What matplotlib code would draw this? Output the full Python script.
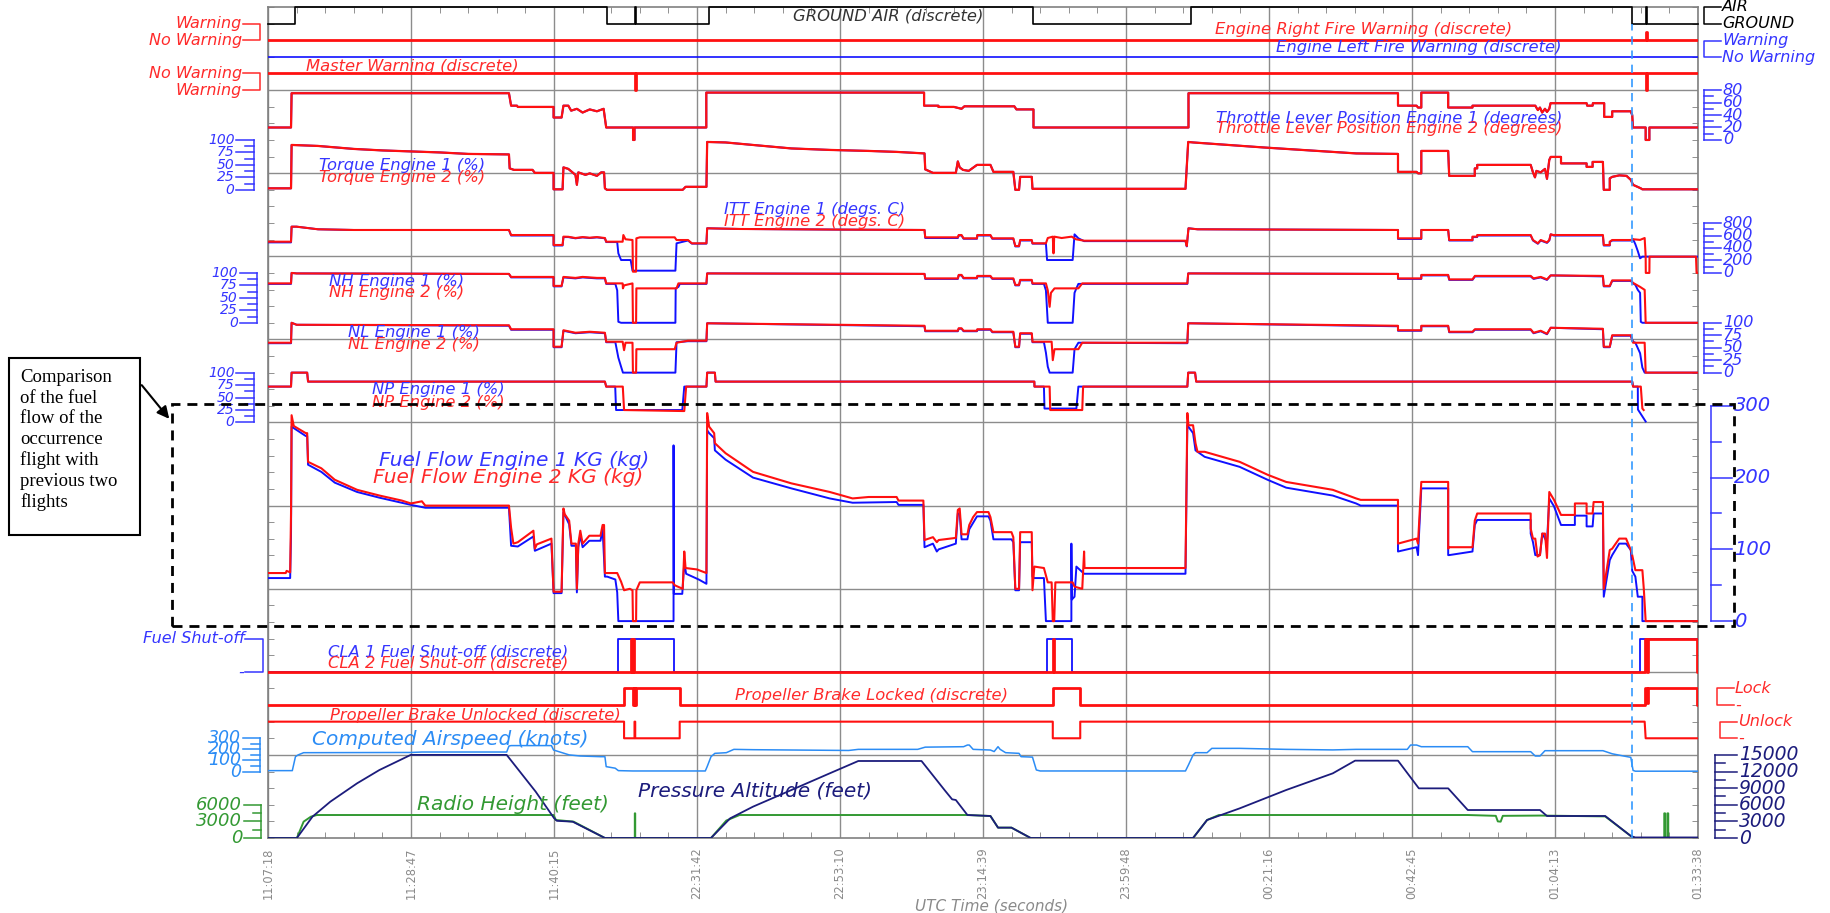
import numpy as np
import matplotlib
matplotlib.use("Agg")
import matplotlib.pyplot as plt
from matplotlib.patches import Rectangle

plt.rcParams["font.family"] = ["DejaVu Sans"]

# x is in grid units: 10 equal slices, each labelled with a UTC time
TIME_LABELS = ["11:07:18", "11:28:47", "11:40:15", "22:31:42", "22:53:10", "23:14:39",
               "23:59:48", "00:21:16", "00:42:45", "01:04:13", "01:33:38"]

# ---- discrete signals (0/1) ----
GROUND_AIR = [(0, 0), (0.186, 0), (0.186, 1), (2.368, 1), (2.368, 0), (2.565, 0), (2.565, 1), (2.572, 1),
              (2.572, 0), (3.087, 0), (3.087, 1), (5.353, 1), (5.353, 0), (6.455, 0), (6.455, 1), (9.54, 1),
              (9.54, 0), (9.634, 0), (9.634, 1), (9.642, 1), (9.642, 0), (10, 0)]
MASTER_WARN = [(0, 0), (2.565, 0), (2.565, 1), (2.570, 1), (2.570, 0), (9.634, 0), (9.634, 1), (9.640, 1),
               (9.640, 0), (10, 0)]
RIGHT_FIRE = [(0, 0), (9.634, 0), (9.634, 0.5), (9.640, 0.5), (9.640, 0), (10, 0)]
LEFT_FIRE = [(0, 0), (10, 0)]

# ---- throttle lever (deg) and torque (%) ----
TLA = [(0, 20), (0.161, 20), (0.165, 75), (1.685, 75), (1.70, 55), (1.741, 55), (1.747, 53), (1.997, 53),
       (1.997, 36), (2.053, 36), (2.066, 55), (2.10, 55), (2.12, 47), (2.16, 50), (2.20, 44), (2.25, 49),
       (2.30, 46), (2.347, 50), (2.365, 20), (2.553, 20), (2.553, 0), (2.563, 0), (2.563, 20), (3.065, 20),
       (3.065, 76), (4.588, 76), (4.588, 55), (4.688, 55), (4.688, 53), (4.797, 53), (4.85, 50), (4.87, 54),
       (5.219, 54), (5.234, 49), (5.353, 49), (5.353, 20), (6.437, 20), (6.437, 75), (7.902, 75), (7.902, 55),
       (8.032, 55), (8.042, 52), (8.065, 52), (8.065, 76), (8.253, 76), (8.253, 52), (8.423, 52), (8.423, 55),
       (8.862, 55), (8.88, 48), (8.895, 52), (8.91, 44), (8.93, 50), (8.944, 45), (8.96, 50), (8.969, 59),
       (9.221, 59), (9.225, 55), (9.263, 55), (9.265, 59), (9.344, 59), (9.344, 37), (9.40, 37), (9.40, 46),
       (9.529, 46), (9.54, 40), (9.545, 20), (9.634, 20), (9.634, 0), (9.66, 0), (9.66, 20), (10, 20)]
TORQUE = [(0, 3), (0.161, 3), (0.165, 90), (0.35, 88), (0.6, 82), (0.8, 79), (1.0, 77), (1.2, 75), (1.4, 72),
          (1.685, 71), (1.69, 43), (1.72, 40), (1.85, 40), (1.866, 34), (1.997, 34), (1.997, 1), (2.06, 1),
          (2.066, 45), (2.10, 42), (2.15, 30), (2.16, 10), (2.17, 35), (2.22, 30), (2.25, 33), (2.30, 28),
          (2.33, 35), (2.35, 35), (2.356, 3), (2.37, 0), (2.90, 0), (2.92, 6), (3.066, 6), (3.071, 96),
          (3.2, 95), (3.39, 90), (3.66, 83), (3.93, 80), (4.2, 78), (4.4, 76), (4.591, 73), (4.596, 41),
          (4.65, 34), (4.81, 34), (4.824, 57), (4.837, 45), (4.86, 40), (4.90, 38), (4.958, 50), (5.052, 50),
          (5.073, 36), (5.212, 36), (5.226, 0), (5.252, 0), (5.26, 26), (5.341, 26), (5.346, 2), (6.416, 2),
          (6.435, 96), (6.47, 95), (6.96, 85), (7.61, 73), (7.902, 72), (7.902, 36), (8.032, 36), (8.042, 33),
          (8.065, 33), (8.065, 78), (8.253, 78), (8.26, 28), (8.439, 28), (8.439, 43), (8.456, 43), (8.456, 50),
          (8.83, 50), (8.846, 35), (8.86, 25), (8.87, 38), (8.90, 35), (8.93, 42), (8.944, 22), (8.96, 60),
          (8.97, 66), (9.042, 66), (9.042, 53), (9.221, 53), (9.221, 46), (9.263, 46), (9.263, 56), (9.335, 56),
          (9.341, 0), (9.383, 0), (9.383, 23), (9.40, 26), (9.45, 29), (9.50, 28), (9.53, 20), (9.546, 10),
          (9.60, 3), (9.611, 1), (10, 1)]

# ---- ITT (deg C) ----
ITT_E2 = [(0, 501), (0.161, 501), (0.165, 742), (0.20, 742), (0.35, 700), (0.6, 689), (1.685, 689), (1.70, 608),
          (1.997, 608), (1.997, 448), (2.06, 448), (2.066, 582), (2.10, 580), (2.15, 560), (2.20, 575),
          (2.25, 565), (2.30, 575), (2.356, 560), (2.365, 501), (2.48, 501), (2.485, 608), (2.50, 540),
          (2.549, 528), (2.552, 20), (2.574, 20), (2.576, 555), (2.60, 571), (2.844, 571), (2.857, 528),
          (2.937, 528), (2.964, 475), (3.066, 475), (3.071, 716), (3.3, 705), (4.0, 695), (4.591, 689),
          (4.596, 571), (4.824, 571), (4.83, 608), (4.85, 608), (4.864, 555), (4.958, 555), (4.96, 608),
          (5.052, 608), (5.065, 555), (5.212, 555), (5.226, 432), (5.252, 432), (5.26, 528), (5.341, 528),
          (5.346, 475), (5.44, 475), (5.453, 560), (5.488, 582), (5.493, 314), (5.498, 582), (5.55, 560),
          (5.62, 582), (5.65, 540), (5.707, 517), (6.416, 517), (6.425, 432), (6.437, 716), (6.5, 700),
          (7.902, 689), (7.902, 555), (8.065, 555), (8.065, 689), (8.253, 689), (8.26, 528), (8.423, 528),
          (8.423, 582), (8.456, 582), (8.456, 608), (8.83, 608), (8.846, 528), (8.88, 475), (8.90, 528),
          (8.944, 490), (8.96, 528), (8.97, 619), (8.99, 608), (9.335, 608), (9.341, 448), (9.383, 448),
          (9.383, 501), (9.40, 528), (9.53, 528), (9.546, 540), (9.595, 530), (9.627, 560), (9.634, 261),
          (9.635, 0), (9.66, 0), (9.661, 261), (9.986, 261), (9.99, 0), (10, 0)]
ITT_E1 = [(0, 490), (0.161, 490), (0.165, 742), (0.20, 742), (0.35, 700), (0.6, 689), (1.685, 689), (1.70, 600),
          (1.997, 600), (1.997, 440), (2.06, 440), (2.066, 575), (2.10, 575), (2.15, 555), (2.20, 570),
          (2.25, 560), (2.30, 570), (2.356, 555), (2.365, 495), (2.442, 495), (2.45, 314), (2.469, 207),
          (2.536, 207), (2.549, 36), (2.849, 36), (2.857, 475), (2.937, 520), (2.964, 470), (3.066, 470),
          (3.071, 716), (3.3, 705), (4.0, 695), (4.591, 689), (4.596, 560), (4.824, 560), (4.83, 600),
          (4.85, 600), (4.864, 548), (4.958, 548), (4.96, 600), (5.052, 600), (5.065, 548), (5.212, 548),
          (5.226, 425), (5.252, 425), (5.26, 520), (5.341, 520), (5.346, 470), (5.44, 470), (5.448, 207),
          (5.627, 207), (5.64, 619), (5.667, 555), (5.707, 510), (6.416, 510), (6.425, 425), (6.437, 716),
          (6.5, 700), (7.902, 689), (7.902, 545), (8.065, 545), (8.065, 689), (8.253, 689), (8.26, 520),
          (8.423, 520), (8.423, 575), (8.456, 575), (8.456, 600), (8.83, 600), (8.846, 520), (8.88, 468),
          (8.90, 520), (8.944, 482), (8.96, 520), (8.97, 619), (8.99, 600), (9.335, 600), (9.341, 440),
          (9.383, 440), (9.383, 495), (9.40, 520), (9.53, 520), (9.546, 540), (9.562, 460), (9.579, 350),
          (9.595, 234), (9.611, 261), (10, 261)]

# ---- NH, NL, NP (%) ----
NH_E2 = [(0, 79), (0.161, 79), (0.165, 100), (0.20, 99), (1.685, 98), (1.70, 92), (1.997, 92), (1.997, 74),
         (2.053, 74), (2.066, 92), (2.15, 90), (2.20, 92), (2.30, 90), (2.356, 90), (2.365, 79), (2.48, 79),
         (2.482, 69), (2.49, 75), (2.549, 79), (2.552, 0), (2.574, 0), (2.576, 69), (2.857, 69), (2.87, 79),
         (3.066, 79), (3.071, 99), (4.591, 98), (4.596, 89), (4.824, 89), (4.83, 96), (4.85, 96), (4.864, 90),
         (4.958, 90), (4.96, 94), (5.052, 94), (5.065, 89), (5.212, 89), (5.226, 76), (5.252, 76), (5.26, 86),
         (5.341, 86), (5.346, 79), (5.44, 79), (5.453, 65), (5.466, 32), (5.475, 60), (5.50, 69), (5.667, 69),
         (5.694, 79), (6.429, 79), (6.435, 99), (7.902, 98), (7.902, 89), (8.065, 89), (8.065, 96), (8.253, 96),
         (8.26, 87), (8.423, 87), (8.44, 94), (8.83, 94), (8.85, 89), (8.90, 92), (8.944, 87), (8.97, 95),
         (9.335, 94), (9.341, 74), (9.383, 74), (9.40, 85), (9.53, 85), (9.546, 80), (9.595, 72), (9.627, 66),
         (9.634, 0), (10, 0)]
NH_E1 = [(0, 78), (0.161, 78), (0.165, 100), (0.20, 99), (1.685, 98), (1.70, 91), (1.997, 91), (1.997, 73),
         (2.053, 73), (2.066, 91), (2.15, 89), (2.20, 91), (2.30, 89), (2.356, 89), (2.365, 78), (2.429, 78),
         (2.442, 65), (2.45, 2), (2.469, 0), (2.849, 0), (2.851, 69), (2.87, 72), (2.88, 78), (3.066, 78),
         (3.071, 99), (4.591, 98), (4.596, 88), (4.824, 88), (4.83, 95), (4.85, 95), (4.864, 89), (4.958, 89),
         (4.96, 93), (5.052, 93), (5.065, 88), (5.212, 88), (5.226, 75), (5.252, 75), (5.26, 85), (5.341, 85),
         (5.346, 78), (5.426, 78), (5.44, 65), (5.453, 0), (5.627, 0), (5.64, 60), (5.653, 69), (5.667, 78),
         (6.429, 78), (6.435, 99), (7.902, 98), (7.902, 88), (8.065, 88), (8.065, 95), (8.253, 95), (8.26, 86),
         (8.423, 86), (8.44, 93), (8.83, 93), (8.85, 88), (8.90, 91), (8.944, 86), (8.97, 95), (9.335, 93),
         (9.341, 73), (9.383, 73), (9.40, 84), (9.53, 84), (9.546, 79), (9.562, 76), (9.579, 66), (9.595, 60),
         (9.60, 2), (9.611, 0), (10, 0)]
NL_E2 = [(0, 60), (0.161, 60), (0.165, 100), (0.20, 96), (1.685, 95), (1.70, 87), (1.997, 87), (1.997, 52),
         (2.053, 52), (2.066, 85), (2.15, 80), (2.25, 82), (2.356, 80), (2.365, 62), (2.48, 62), (2.49, 45),
         (2.50, 60), (2.549, 60), (2.552, 0), (2.574, 0), (2.576, 47), (2.844, 47), (2.857, 60), (2.937, 64),
         (3.066, 64), (3.071, 99), (4.591, 94), (4.596, 84), (4.824, 84), (4.83, 89), (4.85, 89), (4.864, 84),
         (4.958, 84), (4.96, 87), (5.052, 87), (5.065, 82), (5.212, 82), (5.226, 52), (5.252, 52), (5.26, 79),
         (5.341, 79), (5.346, 62), (5.48, 62), (5.488, 25), (5.50, 47), (5.667, 47), (5.694, 60), (6.429, 60),
         (6.435, 99), (7.902, 94), (7.902, 85), (8.065, 85), (8.065, 94), (8.253, 94), (8.26, 82), (8.423, 82),
         (8.44, 87), (8.83, 87), (8.85, 80), (8.90, 84), (8.944, 78), (8.97, 90), (9.335, 88), (9.341, 52),
         (9.383, 52), (9.40, 75), (9.53, 75), (9.546, 60), (9.627, 60), (9.634, 0), (10, 0)]
NL_E1 = [(0, 59), (0.161, 59), (0.165, 100), (0.20, 96), (1.685, 94), (1.70, 86), (1.997, 86), (1.997, 51),
         (2.053, 51), (2.066, 84), (2.15, 79), (2.25, 81), (2.356, 79), (2.365, 61), (2.429, 61), (2.45, 30),
         (2.469, 12), (2.482, 0), (2.849, 0), (2.857, 61), (2.937, 63), (3.066, 63), (3.071, 99), (4.591, 93),
         (4.596, 83), (4.824, 83), (4.83, 88), (4.85, 88), (4.864, 83), (4.958, 83), (4.96, 86), (5.052, 86),
         (5.065, 81), (5.212, 81), (5.226, 51), (5.252, 51), (5.26, 78), (5.341, 78), (5.346, 61), (5.426, 61),
         (5.44, 40), (5.453, 12), (5.466, 0), (5.627, 0), (5.64, 47), (5.667, 60), (6.429, 59), (6.435, 99),
         (7.902, 93), (7.902, 84), (8.065, 84), (8.065, 93), (8.253, 93), (8.26, 81), (8.423, 81), (8.44, 86),
         (8.83, 86), (8.85, 79), (8.90, 83), (8.944, 77), (8.97, 90), (9.335, 87), (9.341, 51), (9.383, 51),
         (9.40, 74), (9.53, 74), (9.546, 62), (9.562, 60), (9.595, 39), (9.611, 10), (9.627, 0), (10, 0)]
NP_E2 = [(0, 72), (0.161, 72), (0.165, 100), (0.274, 100), (0.28, 82), (2.356, 82), (2.365, 72), (2.481, 72),
         (2.49, 25), (2.90, 23), (2.911, 23), (2.924, 72), (3.066, 72), (3.071, 100), (3.125, 100), (3.13, 82),
         (5.359, 82), (5.36, 72), (5.466, 72), (5.47, 25), (5.694, 25), (5.70, 72), (6.429, 72), (6.435, 100),
         (6.483, 100), (6.491, 82), (9.54, 82), (9.546, 72), (9.60, 72), (9.611, 28), (9.62, 25)]
NP_E1 = [(0, 72), (0.161, 72), (0.165, 100), (0.274, 100), (0.28, 82), (2.356, 82), (2.365, 72), (2.428, 72),
         (2.434, 25), (2.897, 25), (2.911, 72), (3.066, 72), (3.071, 100), (3.125, 100), (3.13, 82), (5.359, 82),
         (5.36, 72), (5.426, 72), (5.43, 28), (5.653, 28), (5.667, 72), (6.429, 72), (6.435, 100), (6.483, 100),
         (6.491, 82), (9.54, 82), (9.546, 72), (9.579, 72), (9.58, 26), (9.634, 2)]

# ---- fuel flow (kg) ----
FF_E2 = [(0, 67), (0.124, 67), (0.13, 70), (0.155, 68), (0.161, 150), (0.165, 287), (0.18, 272), (0.264, 262),
         (0.274, 262), (0.28, 222), (0.373, 213), (0.467, 197), (0.623, 183), (0.78, 175), (0.936, 168),
         (1.0, 164), (1.076, 167), (1.10, 161), (1.685, 161), (1.70, 130), (1.716, 108), (1.747, 110),
         (1.856, 126), (1.866, 101), (1.88, 107), (1.982, 115), (1.997, 41), (2.053, 41), (2.066, 157),
         (2.075, 149), (2.106, 140), (2.122, 108), (2.153, 108), (2.16, 45), (2.17, 108), (2.184, 126),
         (2.20, 108), (2.247, 119), (2.325, 119), (2.34, 134), (2.35, 134), (2.356, 67), (2.372, 67),
         (2.442, 67), (2.469, 55), (2.49, 43), (2.53, 45), (2.549, 43), (2.552, 0), (2.574, 0), (2.576, 43),
         (2.60, 54), (2.83, 54), (2.844, 50), (2.90, 45), (2.911, 97), (2.92, 74), (3.0, 72), (3.066, 67),
         (3.071, 290), (3.085, 271), (3.12, 262), (3.125, 248), (3.20, 234), (3.392, 208), (3.66, 192),
         (3.928, 180), (4.088, 171), (4.2, 173), (4.396, 173), (4.409, 168), (4.583, 168), (4.591, 113),
         (4.65, 117), (4.677, 110), (4.69, 113), (4.81, 116), (4.824, 155), (4.837, 157), (4.85, 121),
         (4.891, 121), (4.904, 134), (4.931, 145), (4.958, 152), (5.038, 152), (5.052, 145), (5.073, 124),
         (5.199, 124), (5.212, 117), (5.226, 45), (5.252, 45), (5.26, 124), (5.341, 124), (5.346, 43),
         (5.359, 76), (5.426, 74), (5.453, 54), (5.48, 54), (5.488, 0), (5.498, 0), (5.506, 54), (5.627, 54),
         (5.64, 48), (5.694, 45), (5.707, 97), (5.71, 74), (6.416, 74), (6.429, 290), (6.437, 273),
         (6.469, 273), (6.486, 248), (6.50, 236), (6.55, 236), (6.795, 222), (6.99, 204), (7.12, 194),
         (7.446, 183), (7.609, 171), (7.641, 169), (7.902, 169), (7.902, 108), (8.032, 115), (8.042, 108),
         (8.065, 194), (8.253, 194), (8.253, 101), (8.26, 103), (8.423, 103), (8.439, 140), (8.456, 150),
         (8.83, 150), (8.83, 129), (8.846, 115), (8.862, 115), (8.878, 90), (8.895, 92), (8.911, 122),
         (8.93, 122), (8.944, 88), (8.96, 180), (8.993, 169), (9.042, 148), (9.139, 148), (9.139, 164),
         (9.221, 164), (9.221, 150), (9.263, 150), (9.27, 166), (9.335, 166), (9.341, 45), (9.383, 99),
         (9.40, 101), (9.449, 115), (9.497, 115), (9.53, 99), (9.54, 92), (9.562, 71), (9.611, 71),
         (9.621, 45), (9.634, 0), (10, 0)]
FF_E1 = [(0, 60), (0.155, 60), (0.161, 120), (0.165, 271), (0.264, 258), (0.274, 258), (0.28, 218),
         (0.373, 208), (0.467, 193), (0.623, 180), (0.78, 172), (0.936, 165), (1.0, 162), (1.10, 158),
         (1.685, 158), (1.70, 105), (1.747, 104), (1.856, 118), (1.866, 98), (1.982, 108), (1.997, 39),
         (2.053, 39), (2.066, 152), (2.106, 135), (2.122, 105), (2.153, 105), (2.16, 40), (2.17, 103),
         (2.184, 120), (2.20, 103), (2.247, 112), (2.325, 112), (2.34, 128), (2.356, 62), (2.372, 62),
         (2.429, 58), (2.442, 40), (2.45, 0), (2.836, 0), (2.836, 245), (2.838, 38), (2.897, 38), (2.911, 82),
         (2.924, 66), (3.012, 58), (3.066, 52), (3.071, 266), (3.085, 262), (3.12, 255), (3.125, 238),
         (3.20, 225), (3.392, 200), (3.66, 185), (3.928, 171), (4.088, 165), (4.396, 166), (4.409, 162),
         (4.583, 162), (4.591, 103), (4.65, 108), (4.677, 97), (4.69, 100), (4.81, 108), (4.824, 150),
         (4.837, 150), (4.85, 114), (4.891, 114), (4.904, 128), (4.958, 146), (5.038, 146), (5.052, 140),
         (5.073, 114), (5.199, 114), (5.212, 110), (5.226, 43), (5.252, 43), (5.26, 110), (5.341, 110),
         (5.346, 62), (5.359, 60), (5.426, 60), (5.44, 0), (5.618, 0), (5.618, 108), (5.621, 30), (5.64, 34),
         (5.653, 76), (5.707, 66), (6.416, 66), (6.429, 273), (6.469, 262), (6.486, 238), (6.55, 229),
         (6.795, 215), (6.99, 197), (7.12, 186), (7.446, 175), (7.609, 164), (7.641, 161), (7.902, 161),
         (7.902, 97), (8.032, 103), (8.042, 92), (8.065, 185), (8.253, 185), (8.253, 92), (8.26, 92),
         (8.423, 97), (8.439, 134), (8.456, 141), (8.83, 141), (8.83, 122), (8.846, 110), (8.862, 92),
         (8.895, 92), (8.911, 122), (8.944, 110), (8.96, 171), (8.993, 160), (9.042, 134), (9.139, 134),
         (9.139, 147), (9.221, 147), (9.221, 132), (9.263, 132), (9.27, 150), (9.335, 150), (9.341, 34),
         (9.383, 85), (9.40, 92), (9.449, 108), (9.497, 108), (9.53, 99), (9.54, 70), (9.562, 62),
         (9.579, 34), (9.611, 34), (9.611, 0), (10, 0)]

# ---- fuel shut-off / propeller brake (0/1) ----
CLA1 = [(0, 0), (2.45, 0), (2.45, 1), (2.838, 1), (2.838, 0), (5.448, 0), (5.448, 1), (5.621, 1), (5.621, 0),
        (9.595, 0), (9.595, 1), (10, 1)]
CLA2 = [(0, 0), (2.54, 0), (2.54, 1), (2.547, 1), (2.547, 0), (2.554, 0), (2.554, 1), (2.561, 1), (2.561, 0),
        (5.49, 0), (5.49, 1), (5.496, 1), (5.496, 0), (9.627, 0), (9.627, 1), (9.645, 1), (9.645, 0),
        (9.653, 0), (9.653, 1), (9.99, 1), (9.99, 0), (10, 0)]
PB_LOCKED = [(0, 0), (2.49, 0), (2.49, 1), (2.55, 1), (2.55, 0), (2.557, 0), (2.557, 1), (2.564, 1), (2.564, 0),
             (2.571, 0), (2.571, 1), (2.879, 1), (2.879, 0), (5.488, 0), (5.488, 1), (5.68, 1), (5.68, 0),
             (9.627, 0), (9.627, 1), (9.645, 1), (9.645, 0.1), (9.653, 0.1), (9.653, 1), (9.99, 1), (9.99, 0),
             (10, 0)]
PB_UNLOCKED = [(0, 1), (2.49, 1), (2.49, 0), (2.563, 0), (2.563, 1), (2.568, 1), (2.568, 0), (2.879, 0),
               (2.879, 1), (5.488, 1), (5.488, 0), (5.68, 0), (5.68, 1), (9.627, 1), (9.634, 0), (10, 0)]

# ---- airspeed (kt), pressure altitude and radio height (ft) ----
CAS = [(0, 8), (0.17, 8), (0.192, 134), (0.211, 150), (0.249, 170), (1.0, 172), (1.076, 176), (1.669, 176),
       (1.685, 230), (1.70, 234), (1.982, 234), (1.997, 194), (2.106, 150), (2.184, 140), (2.325, 134),
       (2.356, 134), (2.365, 44), (2.428, 30), (2.45, 8), (2.55, 5), (3.058, 5), (3.071, 44), (3.098, 134),
       (3.125, 164), (3.205, 170), (3.258, 200), (3.392, 197), (4.061, 190), (4.128, 200), (4.543, 200),
       (4.596, 220), (4.864, 224), (4.891, 239), (4.904, 239), (4.931, 200), (5.052, 194), (5.078, 180),
       (5.105, 224), (5.12, 200), (5.158, 170), (5.252, 164), (5.266, 134), (5.346, 130), (5.373, 14),
       (5.40, 5), (6.416, 5), (6.437, 60), (6.469, 149), (6.486, 170), (6.567, 170), (6.6, 209), (6.795, 209),
       (7.12, 200), (7.446, 195), (7.609, 200), (7.967, 200), (7.99, 239), (8.032, 239), (8.065, 224),
       (8.39, 224), (8.423, 179), (8.83, 179), (8.862, 140), (8.895, 140), (8.93, 188), (9.335, 188),
       (9.40, 160), (9.48, 140), (9.53, 128), (9.546, 10), (9.562, 3), (10, 3)]
ALT = [(0, 0), (0.202, 0), (0.311, 3850), (0.436, 6560), (0.623, 9870), (0.779, 12270), (0.998, 15000),
       (1.669, 15000), (1.872, 8360), (2.0, 3600), (2.02, 3100), (2.13, 2950), (2.356, 0), (3.098, 0),
       (3.232, 3550), (3.392, 5660), (3.66, 8660), (3.928, 11670), (4.128, 13900), (4.57, 13900),
       (4.731, 8660), (4.784, 6980), (4.81, 6860), (4.891, 4150), (5.052, 3970), (5.105, 1870), (5.199, 1870),
       (5.333, 0), (6.469, 0), (6.567, 3250), (6.795, 5350), (7.12, 8660), (7.446, 11670), (7.602, 13960),
       (7.902, 13960), (8.048, 8960), (8.253, 8960), (8.39, 5050), (8.895, 5050), (8.944, 3970),
       (9.351, 3970), (9.53, 360), (9.56, 100), (10, 100)]
RADIO = [(0, 0), (0.202, 0), (0.249, 2950), (0.30, 3850), (0.342, 4150), (1.997, 4150), (2.013, 3250),
         (2.137, 2950), (2.356, 0), (2.565, 0), (2.565, 4450), (2.568, 4450), (2.568, 0), (3.098, 0),
         (3.205, 3150), (3.298, 4150), (4.891, 4150), (5.052, 3970), (5.105, 1870), (5.199, 1870), (5.333, 0),
         (6.469, 0), (6.567, 3250), (6.65, 4150), (8.39, 4150), (8.586, 4000), (8.60, 3000), (8.62, 2950),
         (8.635, 4000), (8.895, 4050), (9.351, 3900), (9.53, 360), (9.56, 0), (9.764, 0), (9.764, 4450),
         (9.77, 4450), (9.77, 0), (9.786, 0), (9.786, 4450), (9.792, 4450), (9.792, 0), (10, 0)]

RED = "#ff1010"
BLUE = "#1010ff"
LBL_BLUE = "#3535ff"
LBL_RED = "#ff2a2a"
CAS_C = "#2b8cf5"
ALT_C = "#1c1c7c"
RH_C = "#339933"
FS = 11.8      # trace names
FS_BIG = 14.5  # the larger trace names


def xy(points, u0, k):
    a = np.array(points, dtype=float)
    return a[:, 0], u0 + a[:, 1] * k


fig = plt.figure(figsize=(18.3, 9.13), dpi=100)
ax = fig.add_axes([268 / 1830, 75 / 913, 1430 / 1830, 831 / 913])
ax.set_xlim(0, 10)
ax.set_ylim(0, 10)

ax.set_xticks(range(11))
ax.set_xticklabels(TIME_LABELS, rotation=90, color="#8a8a8a", fontsize=8.3)
ax.set_yticks(range(1, 10))
ax.set_xticks(np.arange(0, 10.01, 0.2), minor=True)
ax.set_yticks(np.arange(0, 10.01, 0.2), minor=True)
ax.tick_params(axis="y", which="major", length=0, labelleft=False)
ax.tick_params(axis="x", which="major", length=0, pad=7)
ax.tick_params(which="minor", direction="in", length=4, color="#808080",
               top=True, bottom=True, left=True, right=True)
ax.grid(True, which="major", color="#8c8c8c", lw=1.0)
ax.set_axisbelow(True)
for s in ax.spines.values():
    s.set_color("#808080")
    s.set_linewidth(1.2)

# discrete traces
ax.plot(*xy(GROUND_AIR, 9.8, 0.2), color="black", lw=1.2, clip_on=False, zorder=4)
ax.plot(*xy(RIGHT_FIRE, 9.6, 0.2), color=RED, lw=2.0, zorder=4)
ax.plot(*xy(LEFT_FIRE, 9.4, 0.2), color=BLUE, lw=1.2, zorder=4)
ax.plot(*xy(MASTER_WARN, 9.2, -0.2), color=RED, lw=2.0, zorder=4)

# engine traces, blue (engine 1) under red (engine 2)
ax.plot(*xy(TLA, 8.40, 0.0075), color=BLUE, lw=1.4, zorder=3)
ax.plot(*xy(TLA, 8.40, 0.0075), color=RED, lw=1.6, zorder=4)
ax.plot(*xy(TORQUE, 7.80, 0.006), color=BLUE, lw=1.4, zorder=3)
ax.plot(*xy(TORQUE, 7.80, 0.006), color=RED, lw=1.6, zorder=4)
for e1, e2, u0, k in [(ITT_E1, ITT_E2, 6.80, 0.00075), (NH_E1, NH_E2, 6.20, 0.006),
                      (NL_E1, NL_E2, 5.60, 0.006), (NP_E1, NP_E2, 5.00, 0.006),
                      (FF_E1, FF_E2, 2.61, 2.59 / 300)]:
    ax.plot(*xy(e1, u0, k), color=BLUE, lw=1.4, zorder=3)
    ax.plot(*xy(e2, u0, k), color=RED, lw=1.5, zorder=4)

ax.plot(*xy(CLA1, 2.0, 0.4), color=BLUE, lw=1.3, zorder=3)
ax.plot(*xy(CLA2, 2.0, 0.4), color=RED, lw=2.0, zorder=4)
ax.plot(*xy(PB_LOCKED, 1.6, 0.2), color=RED, lw=2.0, zorder=4)
ax.plot(*xy(PB_UNLOCKED, 1.2, 0.2), color=RED, lw=1.5, zorder=4)

ax.plot(*xy(CAS, 0.8, 0.4 / 300), color=CAS_C, lw=1.1, zorder=4)
ax.plot(*xy(RADIO, 0.0, 1 / 15000), color=RH_C, lw=1.4, zorder=4)
ax.plot(*xy(ALT, 0.0, 1 / 15000), color=ALT_C, lw=1.3, zorder=5)

# occurrence marker
ax.plot([9.54, 9.54], [0, 9.8], color="#3399ff", lw=1.2, ls=(0, (5, 3.5)), zorder=5)

# trace names
LABELS = [
    ("GROUND AIR (discrete)", 4.34, 9.89, "#333333", FS),
    ("Engine Right Fire Warning (discrete)", 7.66, 9.73, LBL_RED, FS),
    ("Engine Left Fire Warning (discrete)", 8.05, 9.51, LBL_BLUE, FS),
    ("Master Warning (discrete)", 1.01, 9.28, LBL_RED, FS),
    ("Throttle Lever Position Engine 1 (degrees)", 7.84, 8.66, LBL_BLUE, FS),
    ("Throttle Lever Position Engine 2 (degrees)", 7.84, 8.54, LBL_RED, FS),
    ("Torque Engine 1 (%)", 0.936, 8.09, LBL_BLUE, FS),
    ("Torque Engine 2 (%)", 0.936, 7.95, LBL_RED, FS),
    ("ITT Engine 1 (degs. C)", 3.82, 7.56, LBL_BLUE, FS),
    ("ITT Engine 2 (degs. C)", 3.82, 7.42, LBL_RED, FS),
    ("NH Engine 1 (%)", 0.90, 6.70, LBL_BLUE, FS),
    ("NH Engine 2 (%)", 0.90, 6.57, LBL_RED, FS),
    ("NL Engine 1 (%)", 1.02, 6.08, LBL_BLUE, FS),
    ("NL Engine 2 (%)", 1.02, 5.94, LBL_RED, FS),
    ("NP Engine 1 (%)", 1.19, 5.40, LBL_BLUE, FS),
    ("NP Engine 2 (%)", 1.19, 5.24, LBL_RED, FS),
    ("Fuel Flow Engine 1 KG (kg)", 1.72, 4.54, LBL_BLUE, FS_BIG),
    ("Fuel Flow Engine 2 KG (kg)", 1.68, 4.34, LBL_RED, FS_BIG),
    ("CLA 1 Fuel Shut-off (discrete)", 1.263, 2.24, LBL_BLUE, FS),
    ("CLA 2 Fuel Shut-off (discrete)", 1.263, 2.11, LBL_RED, FS),
    ("Propeller Brake Locked (discrete)", 4.217, 1.717, LBL_RED, FS),
    ("Propeller Brake Unlocked (discrete)", 1.45, 1.48, LBL_RED, FS),
    ("Computed Airspeed (knots)", 1.273, 1.19, CAS_C, FS_BIG),
    ("Pressure Altitude (feet)", 3.406, 0.57, ALT_C, FS_BIG),
    ("Radio Height (feet)", 1.71, 0.40, RH_C, FS_BIG),
]
for txt, x, y, c, fs in LABELS:
    ax.text(x, y, txt, color=c, fontsize=fs, style="italic", ha="center", va="center", zorder=6)


def ladder(x0, side, u0, u1, vmax, majors, minors, color, fs, tmaj=0.12, tmin=0.06):
    d = -1 if side == "left" else 1
    kw = dict(color=color, lw=1.1, clip_on=False)
    ax.plot([x0, x0], [u0, u1], **kw)
    for v in majors:
        u = u0 + v / vmax * (u1 - u0)
        ax.plot([x0, x0 + d * tmaj], [u, u], **kw)
        ax.text(x0 + d * (tmaj + 0.012), u, f"{v:g}", color=color, fontsize=fs, style="italic",
                ha="right" if side == "left" else "left", va="center", clip_on=False)
    for v in minors:
        u = u0 + v / vmax * (u1 - u0)
        ax.plot([x0, x0 + d * tmin], [u, u], **kw)


def bracket(x0, side, u_top, u_bot, top_txt, bot_txt, color, fs, t=0.12):
    d = -1 if side == "left" else 1
    kw = dict(color=color, lw=1.1, clip_on=False)
    ax.plot([x0 + d * t, x0, x0, x0 + d * t], [u_top, u_top, u_bot, u_bot], **kw)
    for u, s in [(u_top, top_txt), (u_bot, bot_txt)]:
        ax.text(x0 + d * (t + 0.008), u, s, color=color, fontsize=fs, style="italic",
                ha="right" if side == "left" else "left", va="center", clip_on=False)


PCT_MAJ, PCT_MIN = [0, 25, 50, 75, 100], [12.5, 37.5, 62.5, 87.5]
ladder(-0.101, "left", 7.80, 8.40, 100, PCT_MAJ, PCT_MIN, LBL_BLUE, 10)
ladder(-0.079, "left", 6.20, 6.80, 100, PCT_MAJ, PCT_MIN, LBL_BLUE, 10)
ladder(-0.101, "left", 5.00, 5.60, 100, PCT_MAJ, PCT_MIN, LBL_BLUE, 10)
ladder(-0.057, "left", 0.80, 1.20, 300, [0, 100, 200, 300], [50, 150, 250], CAS_C, 12.5)
ladder(-0.048, "left", 0.00, 0.40, 6000, [0, 3000, 6000], [1500, 4500], RH_C, 13)
ladder(10.042, "right", 8.40, 9.00, 80, [0, 20, 40, 60, 80], [10, 30, 50, 70], LBL_BLUE, 11.5)
ladder(10.042, "right", 6.80, 7.40, 800, [0, 200, 400, 600, 800], [100, 300, 500, 700], LBL_BLUE, 11.5)
ladder(10.042, "right", 5.60, 6.20, 100, PCT_MAJ, PCT_MIN, LBL_BLUE, 11.5)
ladder(10.09, "right", 2.61, 5.20, 300, [0, 100, 200, 300], [50, 150, 250], LBL_BLUE, 14, tmaj=0.15, tmin=0.07)
ladder(10.122, "right", 0.0, 1.0, 15000, [0, 3000, 6000, 9000, 12000, 15000],
       [1500, 4500, 7500, 10500, 13500], ALT_C, 13.5, tmaj=0.15, tmin=0.07)

bracket(-0.054, "left", 9.80, 9.60, "Warning", "No Warning", LBL_RED, 11.5)
bracket(-0.054, "left", 9.20, 9.00, "No Warning", "Warning", LBL_RED, 11.5)
bracket(-0.038, "left", 2.40, 2.00, "Fuel Shut-off", "-", LBL_BLUE, 11.5)
bracket(10.042, "right", 10.0, 9.80, "AIR", "GROUND", "black", 11.5)
bracket(10.042, "right", 9.594, 9.394, "Warning", "No Warning", LBL_BLUE, 11.5)
bracket(10.13, "right", 1.80, 1.60, "Lock", "-", LBL_RED, 11.5)
bracket(10.154, "right", 1.40, 1.20, "Unlock", "-", LBL_RED, 11.5)

fig.text(991.5 / 1830, 1 - 906 / 913, "UTC Time (seconds)", color="#8a8a8a", fontsize=11,
         style="italic", ha="center", va="center")

# annotation box and the dashed region around the fuel flow
fig.add_artist(Rectangle((9 / 1830, 1 - 535 / 913), 131 / 1830, 177 / 913, transform=fig.transFigure,
                         fill=False, ec="black", lw=1.5))
fig.text(20 / 1830, 1 - 369 / 913,
         "Comparison\nof the fuel\nflow of the\noccurrence\nflight with\nprevious two\nflights",
         family="Liberation Serif", fontsize=13.5, va="top", ha="left", linespacing=1.27)
ax.annotate("", xy=(171, 913 - 421), xytext=(140, 913 - 383), xycoords="figure pixels",
            textcoords="figure pixels",
            arrowprops=dict(arrowstyle="-|>", color="black", lw=1.5, mutation_scale=18))
fig.add_artist(Rectangle((172 / 1830, 1 - 625.7 / 913), (1734 - 172) / 1830, (625.7 - 404.3) / 913,
                         transform=fig.transFigure, fill=False, ec="black", lw=2.0,
                         ls=(0, (3.6, 2.5)), zorder=10))

fig.savefig("out.png", dpi=100)
